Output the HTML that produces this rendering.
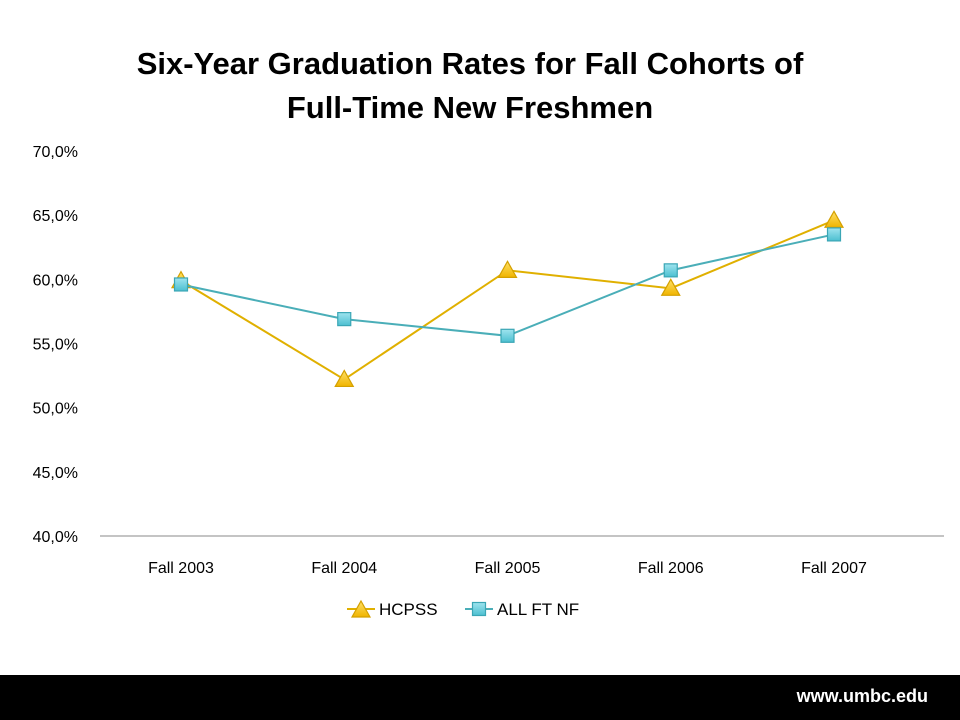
<!DOCTYPE html>
<html><head><meta charset="utf-8"><style>
body{margin:0;width:960px;height:720px;background:#fff;overflow:hidden;font-family:"Liberation Sans",sans-serif;}
#title{position:absolute;top:42px;left:0;width:940px;text-align:center;font-weight:bold;font-size:31px;line-height:44px;color:#000;}
#footer{position:absolute;left:0;top:675px;width:960px;height:45px;background:#000;}
#footer span{position:absolute;right:32px;top:11px;color:#fff;font-weight:bold;font-size:18px;}
svg{position:absolute;left:0;top:0;}
</style></head><body>
<div id="title">Six-Year Graduation Rates for Fall Cohorts of<br>Full-Time New Freshmen</div>
<svg id="chart" width="960" height="675"></svg>
<div id="footer"><span>www.umbc.edu</span></div>
<script>
const categories=["Fall 2003","Fall 2004","Fall 2005","Fall 2006","Fall 2007"];
const hcpss=[59.9,52.2,60.7,59.3,64.6];
const allftnf=[59.6,56.9,55.6,60.7,63.5];
const yTicks=[40,45,50,55,60,65,70];
const NS="http://www.w3.org/2000/svg";
const svg=document.getElementById('chart');
function y(v){return 536-(v-40)*(385/30);}
function x(i){return 181+i*163.25;}
function el(t,a,p){const e=document.createElementNS(NS,t);for(const k in a)e.setAttribute(k,a[k]);(p||svg).appendChild(e);return e;}
yTicks.forEach(t=>{
  const tx=el('text',{x:78,y:y(t)+6,'text-anchor':'end','font-size':16,fill:'#000','font-family':'Liberation Sans,sans-serif'});
  tx.textContent=t.toFixed(1).replace('.',',')+'%';
  
  
});
const ax=el('line',{x1:100,y1:536,x2:944,y2:536,stroke:'#888','stroke-width':1});


categories.forEach((c,i)=>{
  const tx=el('text',{x:x(i),y:573,'text-anchor':'middle','font-size':16,fill:'#000'});
  tx.textContent=c;
  
  
});
const defs=el('defs',{});
defs.innerHTML='<linearGradient id="gt" x1="0" y1="0" x2="0" y2="1"><stop offset="0" stop-color="#ffe066"/><stop offset="1" stop-color="#f0b400"/></linearGradient><linearGradient id="gs" x1="0" y1="0" x2="0" y2="1"><stop offset="0" stop-color="#9fe4ef"/><stop offset="1" stop-color="#4cbfd0"/></linearGradient>';
function tri(cx,cy,g){return el('path',{d:`M${cx},${cy-9} L${cx+9},${cy+7} L${cx-9},${cy+7} Z`,fill:'url(#gt)',stroke:'#d4a000','stroke-width':1.2},g);}
function sq(cx,cy,g){return el('rect',{x:cx-6.5,y:cy-6.5,width:13,height:13,fill:'url(#gs)',stroke:'#3aa6b5','stroke-width':1.2},g);}
function series(vals,color,marker,name){
  const g=el('g',{});
  
  
  const ln=el('polyline',{points:vals.map((v,i)=>x(i)+','+y(v)).join(' '),fill:'none',stroke:color,'stroke-width':2},g);
  
  
  vals.forEach((v,i)=>{const m=marker(x(i),y(v),g);
    
    });
}
series(hcpss,'#e0b000',tri,'hcpss-series');
series(allftnf,'#4aaeb8',sq,'all-ft-nf-series');
const lg=el('g',{});


el('line',{x1:347,y1:609,x2:375,y2:609,stroke:'#e0b000','stroke-width':2},lg);
tri(361,610,lg);
const l1=el('text',{x:379,y:615,'font-size':17,fill:'#000'},lg);l1.textContent='HCPSS';


el('line',{x1:465,y1:609,x2:493,y2:609,stroke:'#4aaeb8','stroke-width':2},lg);
sq(479,609,lg);
const l2=el('text',{x:497,y:615,'font-size':17,fill:'#000'},lg);l2.textContent='ALL FT NF';


</script>
</body></html>
